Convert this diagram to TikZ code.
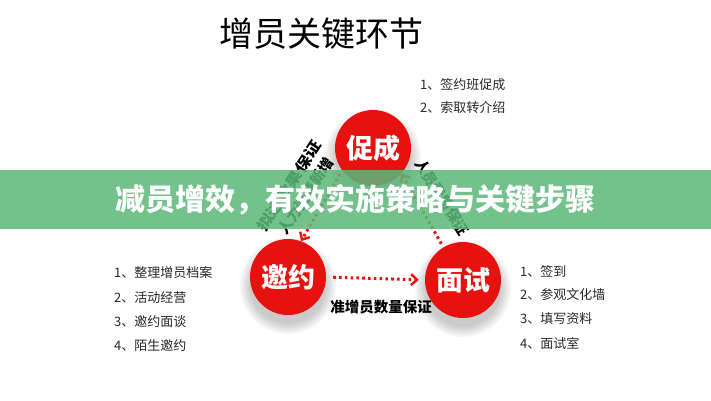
\documentclass[tikz,border=0pt]{standalone}
\usepackage{fontspec}
\newfontfamily\cjk{Noto Sans CJK SC}
\usetikzlibrary{arrows.meta}
\definecolor{ballred}{RGB}{230,18,16}
\definecolor{bannergreen}{RGB}{92,184,122}
\definecolor{listgray}{RGB}{40,40,40}
\tikzset{
  ball/.style={circle,minimum size=76pt,inner sep=0pt,fill=ballred,text=white,
    font=\cjk\bfseries\fontsize{27}{27}\selectfont},
  dotline/.style={ballred,line width=3pt,dash pattern=on 2.6pt off 3.2pt,
    -{Straight Barb[length=6pt,width=11pt,line width=2.4pt]}},
  lbl/.style={inner sep=0pt,text=black,font=\cjk\bfseries\fontsize{14.5}{14.5}\selectfont},
  item/.style={anchor=west,inner sep=0pt,text=listgray,font=\cjk\fontsize{13}{13}\selectfont},
}
\begin{document}
\begin{tikzpicture}[x=1pt,y=-1pt]
\useasboundingbox (0,0) rectangle (711,400);
\fill[white] (0,0) rectangle (711,400);
% title
\node[inner sep=0pt,font=\cjk\fontsize{34}{34}\selectfont,text=black] (title) at (321,34) {增员关键环节};
% shadows
\foreach \cx/\cy in {373/148,288/277,463/280}{
  \foreach \r in {38,40,42,44,46,48}{
    \fill[black,opacity=0.035] (\cx,\cy+9) circle (\r);
  }
}
% balls
\node[ball] (cc) at (373,148) {促成};
\node[ball] (yy) at (288,277) {邀约};
\node[ball] (ms) at (463,280) {面试};
% connectors
\draw[dotline,shorten <=4pt] (cc.216) -- (yy.70);
\draw[dotline,shorten <=4pt] (ms.121) -- (cc.318);
\draw[dotline,shorten <=7pt,shorten >=6pt] (yy.0) -- (ms.180);
% labels
\node[lbl,rotate=57,xscale=1.2] (l1) at (289,186) {拟达效果保证};
\node[lbl,rotate=57] (l2) at (306,196) {人力资源新增};
\node[lbl,rotate=-58] (l3) at (442,197) {人员素质保证};
\node[lbl] (l4) at (381,307) {准增员数量保证};
% lists
\node[item] (t1) at (420,85) {1、签约班促成};
\node[item] (t2) at (420,108) {2、索取转介绍};
\node[item] (a1) at (114,273) {1、整理增员档案};
\node[item] (a2) at (114,298) {2、活动经营};
\node[item] (a3) at (114,322) {3、邀约面谈};
\node[item] (a4) at (114,346) {4、陌生邀约};
\node[item] (b1) at (520,271) {1、签到};
\node[item] (b2) at (520,295) {2、参观文化墙};
\node[item] (b3) at (520,319) {3、填写资料};
\node[item] (b4) at (520,343) {4、面试室};
% banner
\fill[bannergreen,opacity=0.86] (0,170) rectangle (711,229);
\node[inner sep=0pt,text=white,font=\cjk\bfseries\fontsize{30}{30}\selectfont] (banner) at (355,200) {减员增效，有效实施策略与关键步骤};
\end{tikzpicture}
\end{document}
